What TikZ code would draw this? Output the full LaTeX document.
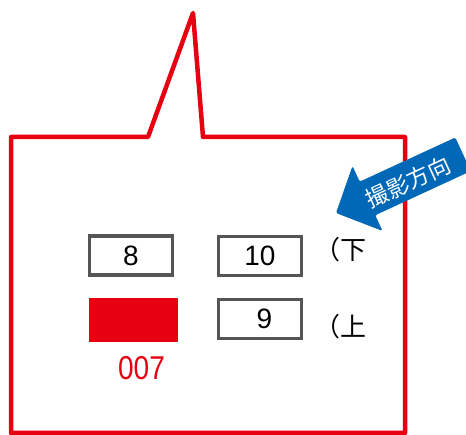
\documentclass[tikz,border=0pt]{standalone}
\usepackage{fontspec}
\setmainfont{Liberation Sans}
\newfontfamily\cjkfont{Noto Sans CJK JP}
\definecolor{calloutred}{RGB}{230,0,18}
\definecolor{boxgray}{RGB}{85,85,85}
\definecolor{arrowblue}{RGB}{0,104,183}
\begin{document}
\begin{tikzpicture}[x=1pt,y=-1pt,
  numbox/.style={draw=boxgray,line width=3.2pt,fill=white,minimum width=83pt,minimum height=39pt,inner sep=0pt,font=\fontsize{28}{28}\selectfont},
  redbox/.style={fill=calloutred,minimum width=89pt,minimum height=44pt,inner sep=0pt},
  sidelabel/.style={anchor=west,inner sep=0pt,font=\cjkfont\fontsize{26}{26}\selectfont}]
\useasboundingbox (0,0) rectangle (466,435);
% callout
\draw[calloutred,line width=4.5pt,line join=round]
  (11,433) -- (11,137) -- (148,137) -- (193,13) -- (203,137) -- (405,137) -- (405,433) -- cycle;
% boxes
\node[numbox] (b8) at (131,255.5) {8};
\node[numbox] (b10) at (260,256) {10};
\node[numbox] (b9) at (260,319) {\hspace*{9pt}9};
\node[redbox] (r007) at (133.5,320) {};
\node[inner sep=0pt,text=calloutred,font=\fontsize{33}{33}\selectfont,xscale=0.85] (t007) at (141.5,368.5) {007};
% side labels
\node[sidelabel] (lower) at (314,250) {（下};
\node[sidelabel] (upper) at (314,327) {（上};
% arrow
\begin{scope}[shift={(336,213)},rotate=24.8]
  \fill[arrowblue,rounded corners=1.5pt]
    (0,0) -- (34.7,-35.8) -- (34.7,-18.5) -- (140,-18.5) -- (140,18.5) -- (34.7,18.5) -- (34.7,35.8) -- cycle;
\end{scope}
\node[rotate=24.8,text=white,inner sep=0pt,font=\cjkfont\fontsize{22.5}{22.5}\selectfont] (dir) at (408,182) {撮影方向};
\end{tikzpicture}
\end{document}
